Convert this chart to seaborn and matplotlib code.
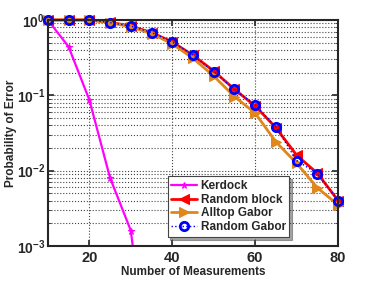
import numpy as np
import pandas as pd
import matplotlib
matplotlib.use("Agg")
import matplotlib.pyplot as plt
import seaborn as sns

m_kerdock = [10, 15, 20, 25, 30, 35]
p_kerdock = [1.0, 0.44, 0.087, 0.0080, 0.0016, 0.00001]

m_all = [10, 15, 20, 25, 30, 35, 40, 45, 50, 55, 60, 65, 70, 75, 80]
p_block = [1.0, 1.0, 1.0, 0.93, 0.83, 0.68, 0.51, 0.34, 0.21, 0.12, 0.072, 0.037, 0.016, 0.0092, 0.0040]
p_alltop = [1.0, 1.0, 1.0, 0.92, 0.81, 0.66, 0.48, 0.31, 0.18, 0.096, 0.058, 0.024, 0.0125, 0.0059, 0.0035]
p_gabor = [1.0, 1.0, 1.0, 0.92, 0.83, 0.68, 0.51, 0.34, 0.206, 0.12, 0.074, 0.038, 0.0136, 0.0091, 0.0040]

sns.set_style("ticks")
plt.rcParams['font.family'] = ['Liberation Sans', 'DejaVu Sans']
plt.rcParams['font.weight'] = 'bold'
plt.rcParams['mathtext.default'] = 'bf'

fig = plt.figure(figsize=(3.74, 2.81), dpi=100)
ax = fig.add_axes([0.128, 0.125, 0.776, 0.804])

sns.lineplot(x=m_kerdock, y=p_kerdock, ax=ax, color="#ff00ff", marker="*", markersize=5,
             markeredgecolor="#ff00ff", linewidth=1.6, label="Kerdock")
sns.lineplot(x=m_all, y=p_block, ax=ax, color="#ff0000", marker="<", markersize=6.5,
             markeredgecolor="#ff0000", linewidth=2.0, label="Random block", clip_on=False)
sns.lineplot(x=m_all, y=p_alltop, ax=ax, color="#e0861a", marker=">", markersize=6.5,
             markeredgecolor="#e0861a", linewidth=2.0, label="Alltop Gabor", clip_on=False)
sns.lineplot(x=m_all, y=p_gabor, ax=ax, color="#0000ff", marker="o", markersize=6,
             markerfacecolor="none", markeredgecolor="#0000ff", markeredgewidth=2.0,
             linestyle=":", linewidth=1.0, label="Random Gabor", clip_on=False)

ax.set_yscale("log")
ax.set_xlim(10, 80)
ax.set_ylim(1e-3, 1)
ax.set_xticks([20, 40, 60, 80])
ax.grid(True, which="major", axis="both", linestyle=":", color="#444444", linewidth=0.8)
ax.grid(True, which="minor", axis="y", linestyle=":", color="#444444", linewidth=0.8)
ax.tick_params(which="both", direction="in", top=True, right=True, labelsize=10)
ax.tick_params(axis="x", labelsize=10.5)
ax.tick_params(axis="y", which="major", pad=2)
ax.tick_params(which="major", length=4, width=1.2)
ax.tick_params(which="minor", length=2)
for s in ax.spines.values():
    s.set_linewidth(1.5)
    s.set_visible(True)

ax.set_xlabel("Number of Measurements", fontsize=8.5, fontweight="bold", labelpad=1)
ax.set_ylabel("Probability of Error", fontsize=8.5, fontweight="bold")
ax.yaxis.set_label_coords(-0.105, 0.5)

leg = ax.legend(loc="lower right", bbox_to_anchor=(0.84, 0.03), fontsize=8.5, frameon=True,
                fancybox=False, shadow=True, borderpad=0.3, labelspacing=0.15,
                handlelength=2.2, handletextpad=0.3, borderaxespad=0.2)
leg.get_frame().set_edgecolor("#444444")
leg.get_frame().set_linewidth(0.8)
for t in leg.get_texts():
    t.set_fontweight("bold")

fig.savefig("out.png", dpi=100)
